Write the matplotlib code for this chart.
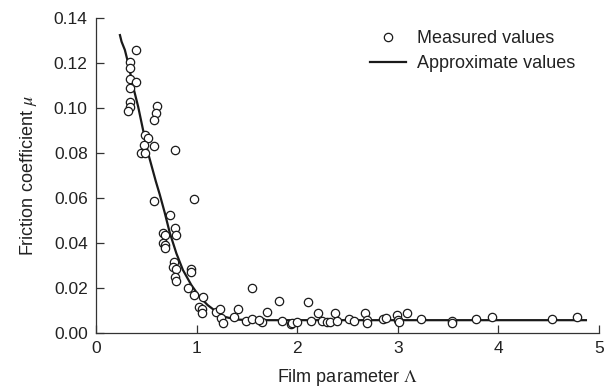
import matplotlib
matplotlib.use("Agg")
import matplotlib.pyplot as plt

plt.rcParams['font.family'] = ['Liberation Sans', 'DejaVu Sans']
plt.rcParams['mathtext.fontset'] = 'stix'

# Measured values (film parameter, friction coefficient)
meas_x = [0.40, 0.34, 0.34, 0.337, 0.396, 0.34, 0.34, 0.34, 0.32, 0.61, 0.594, 0.574,
          0.488, 0.52, 0.478, 0.574, 0.45, 0.49, 0.79, 0.574, 0.97, 0.74, 0.79, 0.80,
          0.666, 0.686, 0.666, 0.686, 0.686, 0.78, 0.766, 0.80, 0.79, 0.80, 0.94, 0.94,
          0.914, 0.974, 1.06, 1.55, 1.02, 1.05, 1.05, 1.19, 1.23, 1.24, 1.26, 1.37,
          1.41, 1.49, 1.55, 1.65, 1.62, 1.70, 1.82, 2.11, 1.85, 1.94, 1.95, 2.00,
          2.14, 2.21, 2.25, 2.30, 2.33, 2.38, 2.40, 2.51, 2.56, 2.67, 2.69, 2.69,
          2.85, 2.88, 2.99, 3.00, 3.01, 3.09, 3.23, 3.54, 3.54, 3.78, 3.94, 4.53, 4.78]
meas_y = [0.126, 0.1204, 0.1176, 0.1129, 0.1117, 0.109, 0.1028, 0.1003, 0.0987, 0.1009,
          0.0976, 0.0947, 0.088, 0.0865, 0.0836, 0.0833, 0.0799, 0.0799, 0.0815, 0.0588,
          0.0597, 0.0524, 0.0468, 0.0436, 0.0446, 0.0436, 0.0401, 0.0393, 0.0376, 0.0317,
          0.0295, 0.0283, 0.025, 0.0231, 0.0283, 0.0273, 0.0201, 0.0169, 0.0159, 0.0201,
          0.0117, 0.0105, 0.0088, 0.0095, 0.0105, 0.0065, 0.0046, 0.007, 0.0105, 0.0055,
          0.0061, 0.005, 0.0058, 0.0095, 0.0144, 0.0136, 0.0055, 0.004, 0.0046, 0.005,
          0.0055, 0.0088, 0.0055, 0.005, 0.005, 0.0088, 0.0055, 0.0061, 0.0055, 0.0088,
          0.0058, 0.0046, 0.0061, 0.0068, 0.008, 0.0058, 0.005, 0.0088, 0.0061, 0.0055,
          0.0046, 0.0062, 0.007, 0.0061, 0.007]

# Approximate values (curve)
curve_x = [0.238, 0.254, 0.287, 0.320, 0.369, 0.419, 0.468, 0.518, 0.594, 0.634, 0.683,
           0.733, 0.799, 0.864, 0.948, 1.03, 1.11, 1.195, 1.277, 1.393, 1.525, 2.0,
           3.0, 4.0, 4.87]
curve_y = [0.1324, 0.1295, 0.1258, 0.1199, 0.1095, 0.1006, 0.0902, 0.0799, 0.0675,
           0.0615, 0.0535, 0.0446, 0.0354, 0.028, 0.0213, 0.0161, 0.0124, 0.0095,
           0.0072, 0.0060, 0.0057, 0.0057, 0.0057, 0.0057, 0.0057]

x_ticks = [0, 1, 2, 3, 4, 5]
y_ticks = [0.00, 0.02, 0.04, 0.06, 0.08, 0.10, 0.12, 0.14]

fig = plt.figure(figsize=(6.10, 3.89), dpi=100)
ax = fig.add_axes([96/610, 1-333/389, (599-96)/610, (333-18)/389])

ax.plot(curve_x, curve_y, color='#1a1a1a', lw=1.6, zorder=2, label='Approximate values')
ax.plot(meas_x, meas_y, linestyle='none', marker='o', markersize=6.0,
        markerfacecolor='white', markeredgecolor='#1a1a1a', markeredgewidth=0.9,
        zorder=3, label='Measured values')

ax.set_xlim(0, 5)
ax.set_ylim(0, 0.14)
ax.set_xticks(x_ticks)
ax.set_xticklabels([str(t) for t in x_ticks])
ax.set_yticks(y_ticks)
ax.set_yticklabels([f"{t:.2f}" for t in y_ticks])

for s in ['top', 'right']:
    ax.spines[s].set_visible(False)
for s in ['left', 'bottom']:
    ax.spines[s].set_color('#333333')
    ax.spines[s].set_linewidth(0.9)

ax.tick_params(direction='in', length=5.5, width=0.9, color='#333333',
               labelsize=12.5, pad=6, labelcolor='#222222')

ax.set_xlabel(r'Film parameter $\Lambda$', fontsize=13, color='#222222', labelpad=7.5)
ax.set_ylabel(r'Friction coefficient $\mu$', fontsize=13, color='#222222', labelpad=11)

handles, labels = ax.get_legend_handles_labels()
order = [1, 0]
leg = ax.legend([handles[i] for i in order], [labels[i] for i in order],
                loc='upper left', bbox_to_anchor=(370/610, 1-30/389),
                bbox_transform=fig.transFigure, frameon=False, fontsize=13,
                handlelength=2.0, handletextpad=0.6, labelspacing=0.45,
                borderpad=0, borderaxespad=0)
for t in leg.get_texts():
    t.set_color('#222222')

fig.savefig('out.png', dpi=100)
